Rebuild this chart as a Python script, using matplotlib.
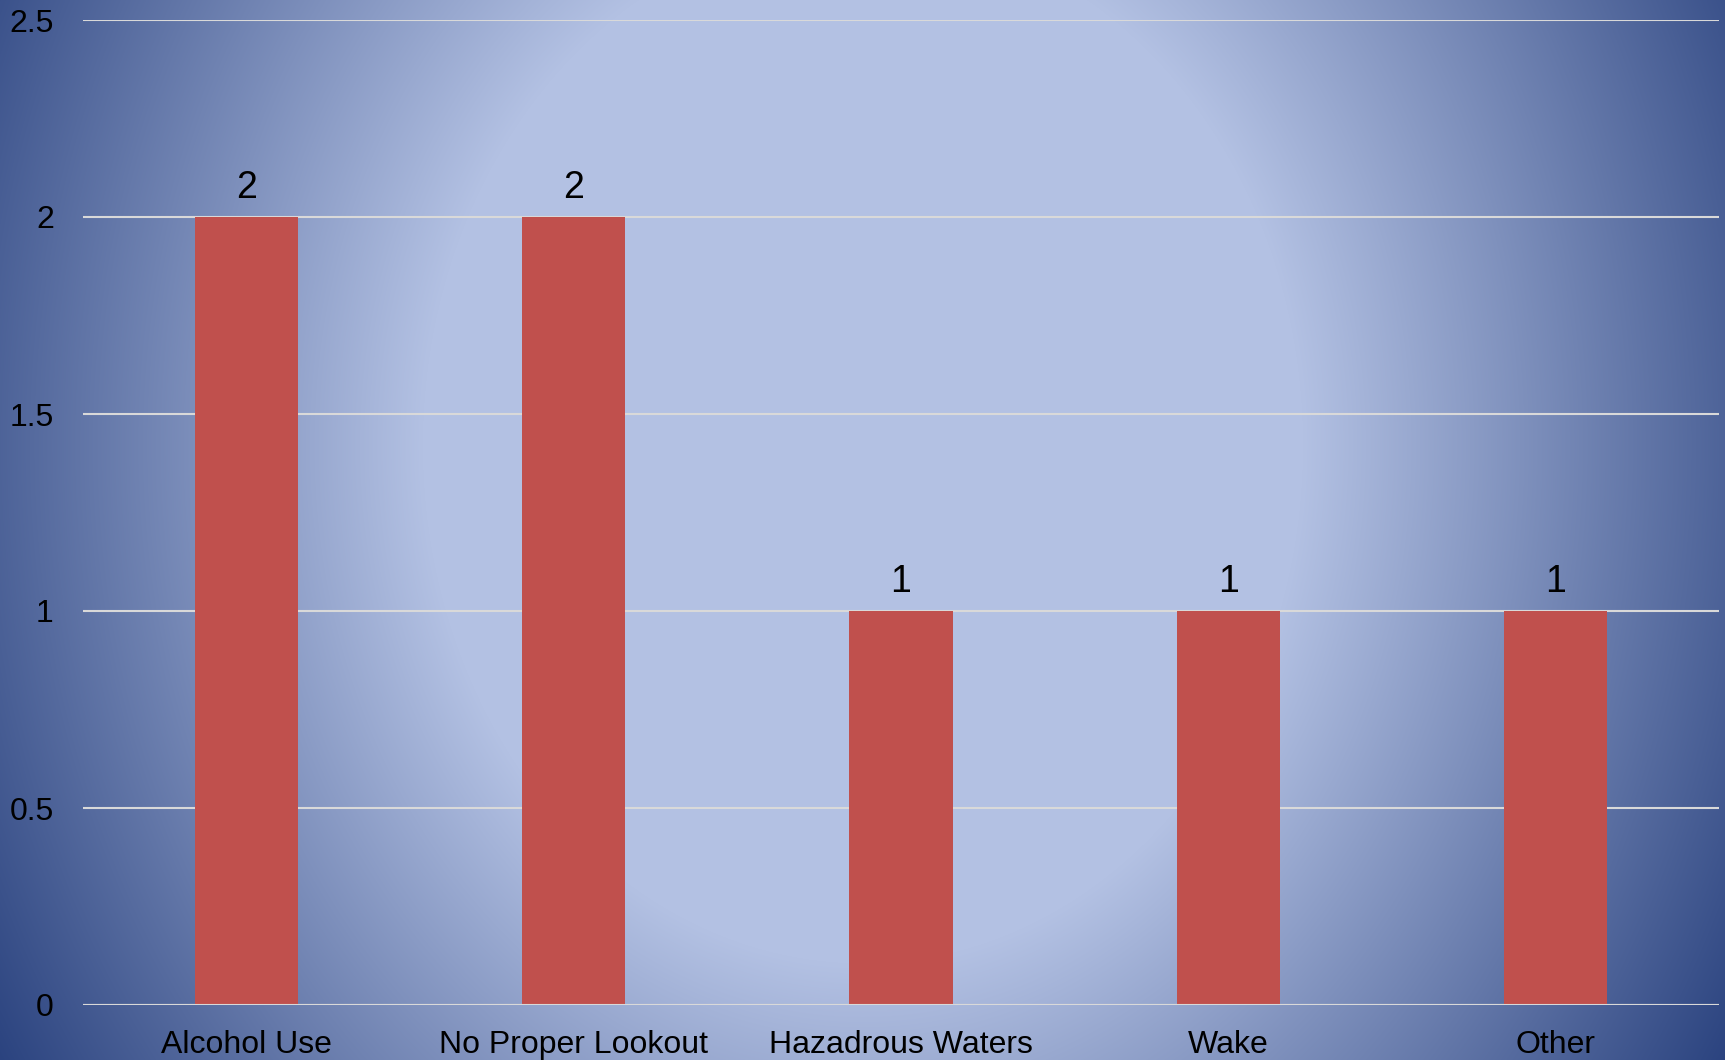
import numpy as np
import matplotlib.pyplot as plt

plt.rcParams['font.family'] = ['Liberation Sans', 'DejaVu Sans']

# Data
categories = ['Alcohol Use', 'No Proper Lookout', 'Hazadrous Waters', 'Wake', 'Other']
counts = [2, 2, 1, 1, 1]
y_ticks = [0, 0.5, 1, 1.5, 2, 2.5]
y_tick_labels = ['0', '0.5', '1', '1.5', '2', '2.5']

W, H = 1725, 1060
fig = plt.figure(figsize=(W / 100, H / 100), dpi=100)

# Radial background gradient (light centre, dark navy corners)
yy, xx = np.mgrid[0:H, 0:W]
r = np.sqrt((xx - W * 0.5) ** 2 + ((yy - H * 0.42) * 0.85) ** 2)
t = np.clip((r - 440) / (1050 - 440), 0, 1)
light = np.array([179, 193, 227]) / 255
dark = np.array([33, 58, 120]) / 255
bg = light[None, None, :] * (1 - t[..., None]) + dark[None, None, :] * t[..., None]
bg_ax = fig.add_axes([0, 0, 1, 1], zorder=-1)
bg_ax.imshow(bg, aspect='auto', extent=[0, 1, 0, 1], interpolation='bilinear')
bg_ax.axis('off')

ax = fig.add_axes([83 / W, 1 - 1005 / H, (1719 - 83) / W, (1005 - 20) / H])
ax.set_facecolor('none')

x = np.arange(len(categories))
bars = ax.bar(x, counts, width=0.315, color='#C0504D', zorder=3)

ax.set_xlim(-0.5, len(categories) - 0.5)
ax.set_ylim(0, 2.5)
ax.set_yticks(y_ticks)
ax.set_yticklabels(y_tick_labels)
ax.set_xticks(x)
ax.set_xticklabels(categories)
ax.tick_params(axis='y', length=0, pad=21, labelsize=23)
ax.tick_params(axis='x', length=0, pad=18, labelsize=23)
ax.yaxis.grid(True, color='#D9D9D9', linewidth=1.5, zorder=1)
for s in ax.spines.values():
    s.set_visible(False)
ax.axhline(0, color='#D9D9D9', linewidth=1.5, zorder=4)

for b, v in zip(bars, counts):
    ax.annotate(str(v), (b.get_x() + b.get_width() / 2, v), xytext=(0, 8),
                textcoords='offset points', ha='center', va='bottom', fontsize=27)

plt.savefig('out.png', dpi=100)
